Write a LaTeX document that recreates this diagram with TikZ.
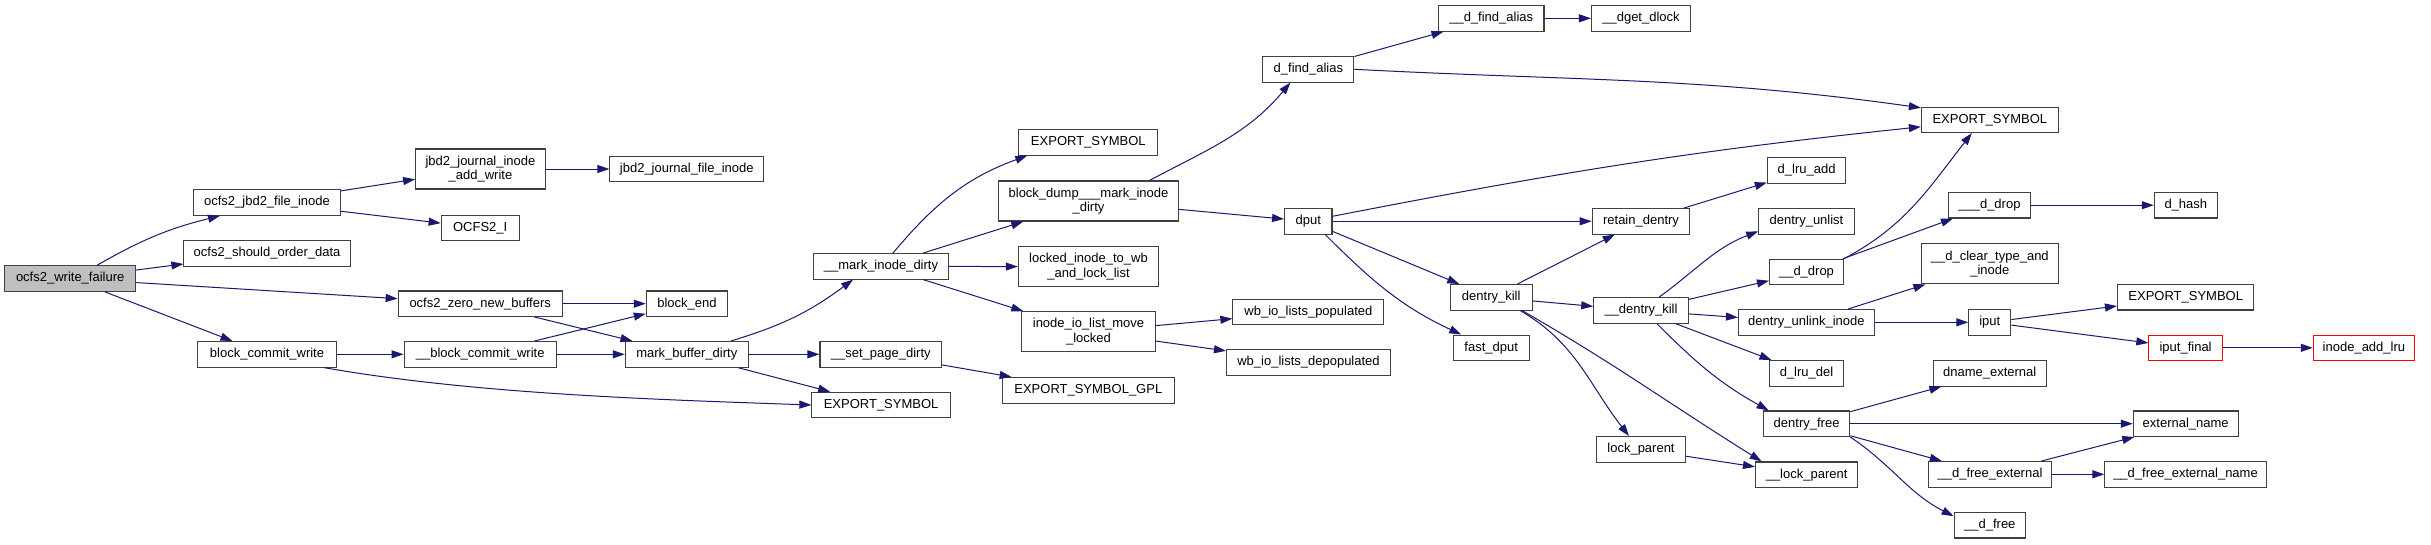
\documentclass[tikz,border=0pt]{standalone}
\usepackage{fontspec}
\setmainfont{Liberation Sans}
\usetikzlibrary{arrows.meta}
\definecolor{edgec}{HTML}{191970}
\definecolor{boxc}{HTML}{404040}
\definecolor{rootg}{HTML}{BFBFBF}
\newcommand\nodefont{\fontsize{13}{14.3}\selectfont}
\tikzset{
  box/.style={draw=boxc, line width=1.1pt, fill=white, font=\nodefont, inner sep=1pt, minimum height=25.5pt, align=center},
  box2/.style={box, minimum height=40pt},
  root/.style={box, fill=rootg},
  hot/.style={box, draw=red},
  edge/.style={draw=edgec, line width=1pt, -{Triangle[length=12pt,width=8pt]}}
}
\begin{document}
\begin{tikzpicture}[x=1pt,y=-1pt]
\useasboundingbox (0,0) rectangle (2431,544);
\fill[white] (0,0) rectangle (2431,544);

\node[root, minimum width=131pt] (wf) at (70.2,278.5) {ocfs2\_write\_failure};
\node[box, minimum width=146.7pt] (ojfi) at (267,202.5) {ocfs2\_jbd2\_file\_inode};
\node[box, minimum width=166.4pt] (osod) at (267.1,253.3) {ocfs2\_should\_order\_data};
\node[box, minimum width=139.2pt] (bcw) at (267,354.3) {block\_commit\_write};
\node[box2, minimum width=129.7pt] (jjiaw) at (480.5,169) {jbd2\_journal\_inode\\\_add\_write};
\node[box, minimum width=78pt] (ocfsi) at (480.2,227.8) {OCFS2\_I};
\node[box, minimum width=164pt] (ozb) at (480.2,303.7) {ocfs2\_zero\_new\_buffers};
\node[box, minimum width=152.2pt] (bbcw) at (480.2,354.3) {\_\_block\_commit\_write};
\node[box, minimum width=153.8pt] (jjfi) at (686.8,169) {jbd2\_journal\_file\_inode};
\node[box, minimum width=81.4pt] (bend) at (687,303.7) {block\_end};
\node[box, minimum width=123pt] (mbd) at (686.8,354.3) {mark\_buffer\_dirty};
\node[box, minimum width=135pt] (mid) at (881,266.3) {\_\_mark\_inode\_dirty};
\node[box, minimum width=121.7pt] (spd) at (880.8,354.3) {\_\_set\_page\_dirty};
\node[box, minimum width=138.4pt] (es1) at (881.1,405) {EXPORT\_SYMBOL};
\node[box, minimum width=139.2pt] (es2) at (1088.3,142.3) {EXPORT\_SYMBOL};
\node[box2, minimum width=180pt] (bdmid) at (1088.5,201) {block\_dump\_\_\_mark\_inode\\\_dirty};
\node[box2, minimum width=140.3pt] (lil) at (1088.5,266.7) {locked\_inode\_to\_wb\\\_and\_lock\_list};
\node[box2, minimum width=133.3pt] (iilm) at (1088.5,331.7) {inode\_io\_list\_move\\\_locked};
\node[box, minimum width=171.6pt] (esgpl) at (1088.3,390.3) {EXPORT\_SYMBOL\_GPL};
\node[box, minimum width=91pt] (dfa) at (1308.4,69.3) {d\_find\_alias};
\node[box, minimum width=47.4pt] (dput) at (1308.3,221.3) {dput};
\node[box, minimum width=151pt] (wbp) at (1308.4,311.8) {wb\_io\_lists\_populated};
\node[box, minimum width=164pt] (wbd) at (1308.5,362.3) {wb\_io\_lists\_depopulated};
\node[box, minimum width=105.6pt] (udfa) at (1491.2,18.3) {\_\_d\_find\_alias};
\node[box, minimum width=82pt] (dk) at (1491.2,297.3) {dentry\_kill};
\node[box, minimum width=76.3pt] (fdput) at (1491.2,347.8) {fast\_dput};
\node[box, minimum width=99pt] (dgd) at (1641,18.3) {\_\_dget\_dlock};
\node[box, minimum width=97.6pt] (rd) at (1641,221.3) {retain\_dentry};
\node[box, minimum width=94.5pt] (udk) at (1641,310.5) {\_\_dentry\_kill};
\node[box, minimum width=89.4pt] (lp) at (1641,449.3) {lock\_parent};
\node[box, minimum width=78.5pt] (dla) at (1806.6,170.3) {d\_lru\_add};
\node[box, minimum width=95.5pt] (dun) at (1806.5,221.3) {dentry\_unlist};
\node[box, minimum width=74pt] (udd) at (1806.5,272) {\_\_d\_drop};
\node[box, minimum width=135.8pt] (dui) at (1806.4,322.3) {dentry\_unlink\_inode};
\node[box, minimum width=74pt] (dld) at (1806.5,373.3) {d\_lru\_del};
\node[box, minimum width=86.3pt] (dfr) at (1806.6,423.7) {dentry\_free};
\node[box, minimum width=102.2pt] (ulp) at (1806.6,474.7) {\_\_lock\_parent};
\node[box, minimum width=136.8pt] (es3) at (1989.8,119.8) {EXPORT\_SYMBOL};
\node[box, minimum width=81.4pt] (uudd) at (1989.4,205.2) {\_\_\_d\_drop};
\node[box2, minimum width=136.8pt] (dcti) at (1989.8,263.8) {\_\_d\_clear\_type\_and\\\_inode};
\node[box, minimum width=42pt] (iput) at (1989.8,322.3) {iput};
\node[box, minimum width=112.7pt] (dne) at (1989.7,373.3) {dname\_external};
\node[box, minimum width=123pt] (dfe) at (1990,474.3) {\_\_d\_free\_external};
\node[box, minimum width=71.2pt] (udf) at (1989.8,525.2) {\_\_d\_free};
\node[box, minimum width=63pt] (dh) at (2185.8,205.2) {d\_hash};
\node[box, minimum width=136.4pt] (es4) at (2185.7,297.2) {EXPORT\_SYMBOL};
\node[hot, minimum width=73.5pt] (ipf) at (2185.6,347.8) {iput\_final};
\node[box, minimum width=104.8pt] (en) at (2185.7,423.7) {external\_name};
\node[box, minimum width=161.3pt] (dfen) at (2185.5,474.3) {\_\_d\_free\_external\_name};
\node[hot, minimum width=101.2pt] (ial) at (2363.9,347.8) {inode\_add\_lru};

\draw[edge] ([xshift=27pt]wf.north) to[bend left=8] ([xshift=-47pt]ojfi.south);
\draw[edge] (wf) -- (osod);
\draw[edge] (wf) -- (ozb);
\draw[edge] (wf) -- (bcw);
\draw[edge] (ojfi) -- (jjiaw);
\draw[edge] (ojfi) -- (ocfsi);
\draw[edge] (jjiaw) -- (jjfi);
\draw[edge] (ozb) -- (bend);
\draw[edge] (ozb) -- (mbd);
\draw[edge] (bcw) -- (bbcw);
\draw[edge] ([xshift=57pt]bcw.south) to[out=-10,in=178,looseness=0.8] (es1.west);
\draw[edge] (bbcw) -- (bend);
\draw[edge] (bbcw) -- (mbd);
\draw[edge] ([xshift=44pt]mbd.north) to[bend right=10] ([xshift=-28pt]mid.south);
\draw[edge] (mbd) -- (spd);
\draw[edge] (mbd) -- (es1);
\draw[edge] (spd) -- (esgpl);
\draw[edge] ([xshift=12pt]mid.north) to[out=50,in=-160] ([xshift=-61pt]es2.south);
\draw[edge] (mid) -- (bdmid);
\draw[edge] (mid) -- (lil);
\draw[edge] (mid) -- (iilm);
\draw[edge] (iilm) -- (wbp);
\draw[edge] (iilm) -- (wbd);
\draw[edge] ([xshift=61pt]bdmid.north) to[out=28,in=-130] ([xshift=-18pt]dfa.south);
\draw[edge] (bdmid) -- (dput);
\draw[edge] (dfa) -- (udfa);
\draw[edge] (dfa.east) to[out=-3,in=172] ([yshift=12pt]es3.west);
\draw[edge] (udfa) -- (dgd);
\draw[edge] ([yshift=5pt]dput.east) to[out=11,in=-174] ([yshift=-7pt]es3.west);
\draw[edge] (dput) -- (rd);
\draw[edge] (dput) -- (dk);
\draw[edge] ([xshift=17pt]dput.south) to[out=-45,in=155] ([xshift=-30pt]fdput.north);
\draw[edge] (rd) -- (dla);
\draw[edge] (dk) -- (rd);
\draw[edge] (dk) -- (udk);
\draw[edge] ([xshift=29pt]dk.south) to[out=-30,in=128] ([xshift=-12pt]lp.north);
\draw[edge] ([xshift=31pt]dk.south) to[out=-30,in=148] ([xshift=-45pt]ulp.north);
\draw[edge] (lp) -- (ulp);
\draw[edge] ([xshift=18pt]udk.north) to[out=36,in=-159] ([yshift=-10pt]dun.west);
\draw[edge] (udk) -- (udd);
\draw[edge] (udk) -- (dui);
\draw[edge] (udk) -- (dld);
\draw[edge] ([xshift=16pt]udk.south) to[out=-45,in=151] ([xshift=-38pt]dfr.north);
\draw[edge] (udd) -- (uudd);
\draw[edge] (udd.north east) to[out=28,in=-128] ([xshift=-18pt]es3.south);
\draw[edge] (uudd) -- (dh);
\draw[edge] (dui) -- (dcti);
\draw[edge] (dui) -- (iput);
\draw[edge] (iput) -- (es4);
\draw[edge] (iput) -- (ipf);
\draw[edge] (ipf) -- (ial);
\draw[edge] (dfr) -- (dne);
\draw[edge] (dfr) -- (en);
\draw[edge] (dfr) -- (dfe);
\draw[edge] (dfr.south east) to[out=-34,in=153] ([yshift=9pt]udf.west);
\draw[edge] (dfe) -- (en);
\draw[edge] (dfe) -- (dfen);
\end{tikzpicture}
\end{document}
